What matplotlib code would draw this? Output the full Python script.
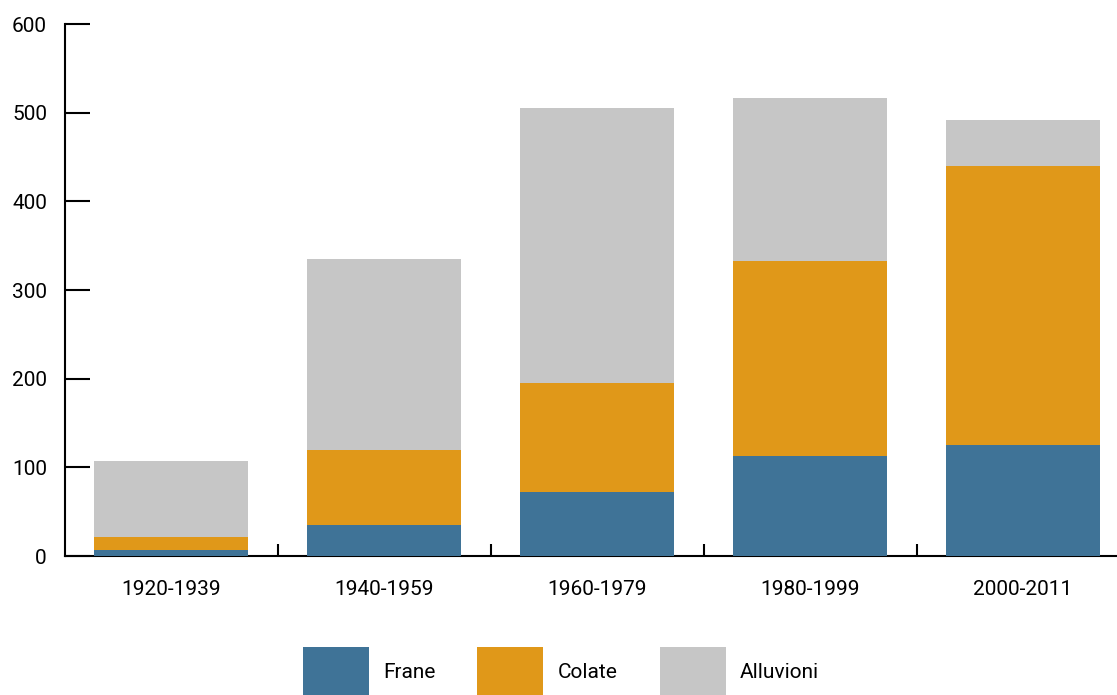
import matplotlib
matplotlib.use("Agg")
import matplotlib.pyplot as plt
import numpy as np

categories = ["1920-1939", "1940-1959", "1960-1979", "1980-1999", "2000-2011"]
frane = [7, 35, 72, 113, 125]
colate = [14, 85, 123, 220, 315]
alluvioni = [86, 215, 310, 184, 52]
series_names = ["Frane", "Colate", "Alluvioni"]
colors = ["#3f7397", "#e09819", "#c6c6c6"]
yticks = [0, 100, 200, 300, 400, 500, 600]

plt.rcParams['font.family'] = ['Roboto', 'DejaVu Sans']

W, H = 1117, 695
fig = plt.figure(figsize=(W / 100, H / 100), dpi=100)
ax = fig.add_axes([65 / W, 139 / H, (1129.5 - 65) / W, 532 / H])

x = np.arange(len(categories))
width = 0.723
bottom = np.zeros(len(categories))
handles = []
for vals, name, c in zip([frane, colate, alluvioni], series_names, colors):
    b = ax.bar(x, vals, width, bottom=bottom, color=c, label=name, zorder=3, linewidth=0)
    handles.append(b)
    bottom += np.array(vals)

ax.set_xlim(-0.5, len(categories) - 0.5)
ax.set_ylim(0, 600)
ax.set_yticks(yticks)
ax.set_yticklabels([str(v) for v in yticks])
ax.set_xticks(x)
ax.set_xticklabels(categories)
ax.set_xticks(x[:-1] + 0.5, minor=True)

for s in ["top", "right"]:
    ax.spines[s].set_visible(False)
for s in ["left", "bottom"]:
    ax.spines[s].set_linewidth(1.5)
    ax.spines[s].set_color("black")
    ax.spines[s].set_zorder(2)

ax.tick_params(axis="y", direction="in", length=18, width=1.5, pad=13, labelsize=15, colors="black")
ax.tick_params(axis="x", which="major", length=0, pad=17, labelsize=15)
ax.tick_params(axis="x", which="minor", direction="in", length=9, width=1.5)

leg = fig.legend(handles=handles, labels=series_names, loc="upper center",
                 bbox_to_anchor=(561 / W, 1 - 647 / H), ncol=3, frameon=False,
                 fontsize=15, handlelength=3.17, handleheight=3.3, handletextpad=0.7,
                 columnspacing=2.0, borderpad=0, borderaxespad=0)

fig.savefig("out.png", dpi=100)
